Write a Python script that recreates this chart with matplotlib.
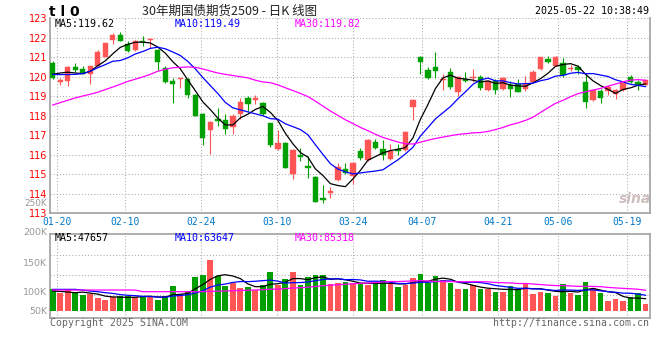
import matplotlib
matplotlib.use('Agg')
import matplotlib.pyplot as plt
import numpy as np
import pandas as pd

# ---------------- data ----------------
opens = [120.70, 119.71, 119.78, 120.50, 120.41, 120.16, 120.57, 121.01, 121.86, 122.12,
         121.69, 121.35, 121.81, 121.86, 121.35, 120.46, 119.76, 119.87, 119.90, 119.08,
         118.08, 117.29, 117.82, 117.77, 117.43, 118.11, 118.91, 118.79, 118.66, 117.60,
         116.27, 116.61, 114.99, 116.01, 115.43, 114.87, 113.79, 114.03, 114.70, 115.29,
         114.90, 116.20, 115.72, 116.64, 116.28, 115.77, 116.28, 116.23, 118.45, 121.01,
         120.36, 120.50, 119.85, 120.24, 119.22, 119.90, 119.93, 119.99, 119.34, 119.78,
         119.39, 119.59, 119.65, 119.39, 119.73, 120.41, 120.92, 120.55, 120.70, 120.38,
         120.50, 119.73, 118.83, 119.27, 119.27, 119.13, 119.34, 119.99, 119.73, 119.59]
highs = [120.82, 119.95, 120.53, 120.70, 120.53, 120.57, 121.35, 121.75, 122.24, 122.29,
         121.81, 121.86, 122.07, 122.00, 121.42, 120.53, 119.93, 119.95, 119.92, 119.10,
         118.14, 117.73, 118.42, 118.08, 118.11, 118.89, 119.01, 119.05, 118.71, 117.62,
         117.26, 116.63, 116.30, 116.32, 115.92, 114.90, 114.44, 114.35, 115.55, 115.55,
         115.62, 116.32, 116.78, 116.81, 116.74, 116.54, 116.54, 117.19, 118.88, 121.04,
         120.50, 121.28, 120.16, 120.46, 120.02, 120.24, 120.38, 120.07, 119.82, 119.90,
         119.99, 119.78, 119.88, 120.04, 120.33, 121.03, 121.04, 121.04, 120.98, 120.62,
         120.62, 120.16, 119.34, 119.39, 119.56, 119.39, 119.73, 120.07, 119.82, 119.85]
lows = [119.90, 119.59, 119.53, 120.24, 120.12, 119.65, 120.53, 120.99, 121.66, 121.81,
        121.25, 121.32, 121.59, 121.45, 120.33, 119.70, 118.66, 119.44, 118.91, 117.97,
        116.52, 116.06, 117.48, 117.05, 117.08, 117.85, 118.25, 118.62, 118.06, 116.37,
        116.23, 115.32, 114.73, 115.69, 114.83, 113.55, 113.50, 113.76, 114.67, 115.00,
        114.49, 115.75, 115.69, 116.27, 115.75, 115.75, 115.98, 116.20, 117.77, 120.12,
        119.90, 119.95, 119.34, 119.39, 119.01, 119.71, 119.71, 119.34, 119.27, 119.13,
        119.34, 118.96, 119.20, 119.27, 119.71, 120.36, 120.72, 120.53, 119.99, 120.29,
        120.16, 118.42, 118.74, 118.66, 119.08, 118.88, 119.27, 119.68, 119.30, 119.56]
closes = [119.95, 119.85, 120.50, 120.33, 120.16, 120.55, 121.28, 121.73, 122.14, 121.81,
          121.32, 121.83, 121.76, 121.93, 120.77, 119.75, 119.65, 119.93, 119.08, 118.01,
          116.88, 117.68, 117.72, 117.34, 118.01, 118.69, 118.62, 118.93, 118.11, 116.51,
          116.61, 115.34, 116.23, 115.86, 115.34, 113.59, 113.66, 114.13, 115.38, 115.04,
          115.58, 115.84, 116.74, 116.32, 115.98, 116.18, 116.18, 117.17, 118.79, 120.77,
          119.95, 120.29, 119.90, 119.47, 119.99, 119.76, 119.99, 119.42, 119.76, 119.34,
          119.93, 119.39, 119.22, 119.65, 120.23, 121.01, 120.77, 121.01, 120.11, 120.45,
          120.36, 118.71, 119.30, 118.91, 119.47, 119.34, 119.70, 119.73, 119.56, 119.82]
volumes = [87300, 73800, 84900, 70900, 64400, 66800, 53300, 43900, 54500, 60300,
           60300, 57400, 57400, 61500, 43900, 60300, 101300, 68500, 80800, 138200,
           146400, 207900, 142300, 102500, 111900, 94300, 98400, 84900, 105400, 158700,
           105400, 130000, 158700, 105400, 136500, 146400, 146400, 109500, 113600, 118900,
           114800, 109500, 105400, 109500, 125900, 111900, 97200, 105400, 134100, 150500,
           114800, 142300, 125900, 111900, 89000, 89000, 105400, 89000, 89000, 77900,
           77900, 101300, 87300, 114800, 68500, 77900, 73800, 61500, 109500, 73800,
           64400, 118900, 91400, 73800, 39800, 48000, 39800, 57400, 73800, 27500]

ma5_head = [120.12, 120.19, 120.23, 120.19]
ma10_head = [120.12, 120.11, 120.11, 120.12, 120.16, 120.28, 120.46, 120.62, 120.79]
ma30_head = [118.55, 118.67, 118.79, 118.91, 119.01, 119.10, 119.20, 119.34, 119.47, 119.61,
             119.76, 119.87, 119.99, 120.12, 120.28, 120.38, 120.46, 120.48, 120.50, 120.48,
             120.40, 120.29, 120.19, 120.12, 120.06, 120.00, 119.94, 119.82, 119.73]
vma5_head = [80600, 79300, 76500, 73800]
vma10_head = [87500, 87500, 87500, 87500, 84800, 80600, 77900, 73800, 71100]
vma30_head = [84800] * 12 + [78000] * 7 + [78000, 78500, 79000, 80000, 81000, 82000,
                                            83000, 84000, 85000, 86000]

date_labels = ['01-20', '02-10', '02-24', '03-10', '03-24', '04-07', '04-21', '05-06', '05-19']
date_index = [1, 10, 20, 30, 40, 49, 59, 67, 76]
price_ticks = list(range(113, 124))

title_text = '30年期国债期货2509 - 日K 线图'
code_text = 't l 0'
time_text = '2025-05-22 10:38:49'
ma_price_labels = ['MA5:119.62', 'MA10:119.49', 'MA30:119.82']
ma_vol_labels = ['MA5:47657', 'MA10:63647', 'MA30:85318']
vol_axis_labels = ['250K', '200K', '150K', '100K', '50K']

# ---------------- styling ----------------
RED = '#FF5555'
GREEN = '#00A000'
MA_COLORS = ['#000000', '#0000FF', '#FF00FF']
GRID = '#AAAAAA'
SPINE = '#A0A0A0'
MONO = 'DejaVu Sans Mono'
# the source draws its date grid on a slightly wider day pitch than its candles
GRID_SCALE, GRID_SHIFT = 1.0124, -0.44

plt.rcParams['font.family'] = ['DejaVu Sans']

W, H = 660, 360
fig = plt.figure(figsize=(W / 100, H / 100), dpi=100)
fig.patch.set_facecolor('white')


def px_axes(left, top, right, bottom):
    return fig.add_axes([left / W, 1 - bottom / H, (right - left) / W, (bottom - top) / H])


ax1 = px_axes(50, 18.2, 649.7, 213.2)
ax2 = px_axes(50, 234.3, 649.7, 318.3)


def moving_average(values, n, head):
    s = pd.Series(values, dtype=float).rolling(n).mean().to_numpy()
    s[:len(head)] = head
    return s


o = np.array(opens)
h = np.array(highs)
l = np.array(lows)
c = np.array(closes)
v = np.array(volumes, dtype=float)
x = np.arange(len(c))
colors = np.where(c >= o, RED, GREEN)
grid_x = [i * GRID_SCALE + GRID_SHIFT for i in date_index]

# ---- price panel ----
ax1.vlines(x, l, h, colors=colors, linewidth=0.8, zorder=3)
body_h = np.maximum(np.abs(c - o), 0.035)
ax1.bar(x, body_h, bottom=np.minimum(o, c), width=0.72, color=colors,
        edgecolor=colors, linewidth=0.3, zorder=4)

for n, head, col in zip([5, 10, 30], [ma5_head, ma10_head, ma30_head], MA_COLORS):
    ax1.plot(x, moving_average(c, n, head), color=col, linewidth=0.9, zorder=5)

ax1.set_xlim(-0.36, 79.55)
ax1.set_ylim(price_ticks[0], price_ticks[-1])
ax1.set_yticks(price_ticks)
ax1.set_yticklabels([str(t) for t in price_ticks], color='#FF0000', fontsize=7)
ax1.set_xticks(grid_x)
ax1.set_xticklabels(date_labels, color='#0078C8', fontsize=7, family=MONO)
ax1.tick_params(axis='both', length=0)
ax1.tick_params(axis='y', pad=2)
ax1.tick_params(axis='x', pad=3)
ax1.grid(True, color=GRID, linewidth=0.75, linestyle=(0, (1, 2)))
ax1.set_axisbelow(True)
for side in ['left', 'right', 'bottom']:
    ax1.spines[side].set_color(SPINE)
    ax1.spines[side].set_linewidth(1.2)
ax1.spines['top'].set_visible(False)

for lab, xf, col in zip(ma_price_labels, [0.0085, 0.207, 0.4085], MA_COLORS):
    ax1.text(xf, 0.972, lab, transform=ax1.transAxes, color=col,
             fontsize=7.2, family=MONO, va='center', ha='left')

# sina watermark
ax1.text(0.975, 0.075, 'sina', transform=ax1.transAxes, color='#D0BEBE', fontsize=10,
         fontweight='bold', fontstyle='italic', ha='center', va='center', zorder=1)

# ---- volume panel ----
ax2.bar(x, v, width=0.76, color=colors, linewidth=0, zorder=3)
for n, head, col in zip([5, 10, 30], [vma5_head, vma10_head, vma30_head], MA_COLORS):
    ax2.plot(x, moving_average(v, n, head), color=col, linewidth=0.9, zorder=5)

ax2.set_xlim(-0.36, 79.55)
vlo, vhi = -31000, 313000
ax2.set_ylim(vlo, vhi)
ax2.set_yticks([vlo + f * (vhi - vlo) for f in (0.275, 0.515, 0.755)])
ax2.set_yticklabels([])
ax2.set_xticks(grid_x)
ax2.set_xticklabels([])
ax2.tick_params(axis='both', length=0)
ax2.grid(True, color=GRID, linewidth=0.75, linestyle=(0, (1, 2)))
ax2.set_axisbelow(True)
for side in ax2.spines:
    ax2.spines[side].set_color(SPINE)
    ax2.spines[side].set_linewidth(1.2)

for lab, xf, col in zip(ma_vol_labels, [0.0085, 0.207, 0.4085], MA_COLORS):
    ax2.text(xf, 0.955, lab, transform=ax2.transAxes, color=col,
             fontsize=7.2, family=MONO, va='center', ha='left')

# volume scale labels (baseline pixel rows as in the source image)
for lab, ypx, fs in zip(vol_axis_labels, [206, 235, 266, 295, 314], [6.4, 6.8, 6.8, 6.8, 6.8]):
    fig.text(47 / W, 1 - ypx / H, lab, color='#999999', fontsize=fs,
             ha='right', va='baseline')

# ---- header / footer ----
fig.text(49 / W, 1 - 11.5 / H, code_text, fontsize=10, fontweight='bold', color='#000000',
         ha='left', va='center')
fig.text(230 / W, 1 - 11 / H, title_text, fontsize=9, color='#222222', ha='center',
         va='center', family=['Noto Sans CJK SC', 'DejaVu Sans'])
fig.text(649 / W, 1 - 11 / H, time_text, fontsize=7.2, family=MONO, color='#000000',
         ha='right', va='center')
fig.text(50 / W, 1 - 323 / H, 'Copyright 2025 SINA.COM', fontsize=7.1, family=MONO,
         color='#666666', ha='left', va='center')
fig.text(649 / W, 1 - 323 / H, 'http://finance.sina.com.cn', fontsize=7.1, family=MONO,
         color='#666666', ha='right', va='center')

fig.savefig('out.png', dpi=100, facecolor='white')
